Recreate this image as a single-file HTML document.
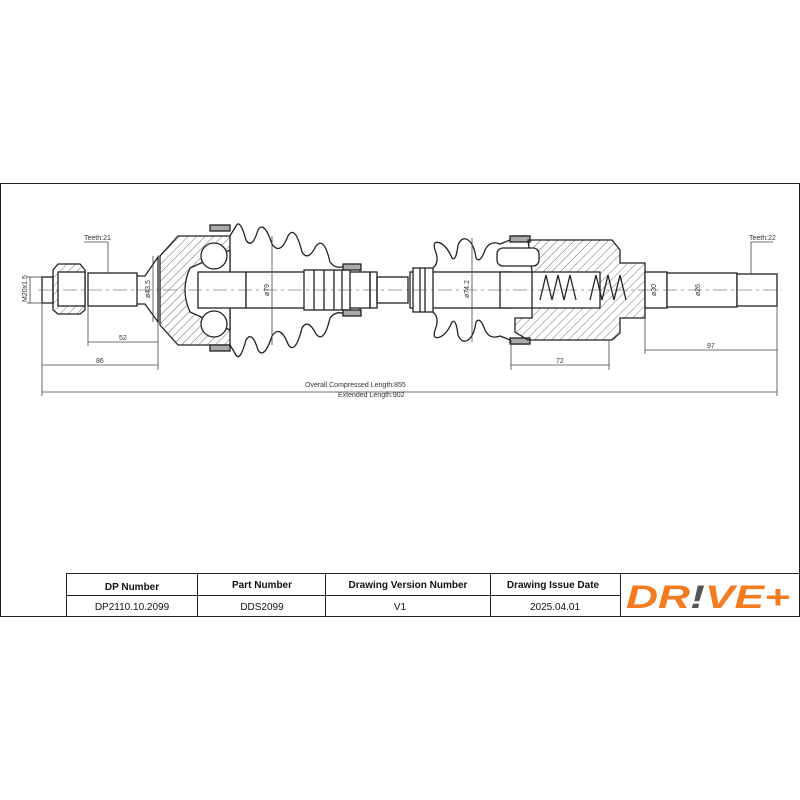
<!DOCTYPE html>
<html><head><style>
body{margin:0;background:#fff;width:800px;height:800px;overflow:hidden;font-family:"Liberation Sans",sans-serif}
svg{position:absolute;left:0;top:0}
</style></head><body>
<svg width="800" height="800" viewBox="0 0 800 800">
<defs>
<pattern id="h" width="6" height="6" patternUnits="userSpaceOnUse" patternTransform="rotate(45)">
<line x1="0" y1="0" x2="0" y2="6" stroke="#333" stroke-width="0.7"/></pattern>
</defs>
<rect x="0.5" y="183.5" width="799" height="433" fill="none" stroke="#222" stroke-width="1"/>
<g fill="none" stroke="#222" stroke-width="1.3">
<rect x="42" y="277" width="11" height="26" fill="#fff"/>
<path d="M53 270 L58 264 L80 264 L85 270 L85 310 L80 314 L58 314 L53 310 Z" fill="url(#h)"/>
<rect x="58" y="272" width="27" height="34" fill="#fff"/>
<rect x="88" y="273" width="49" height="33" fill="#fff"/>
<path d="M137 276 L145 276 L158 257 L158 322 L145 304 L137 304"/>
<path d="M160 256 L178 236 L230 236 L230 345 L178 345 L160 325 Z" fill="url(#h)"/>
<path d="M190 268 Q180 290 190 312 L230 330 L230 250 Z" fill="#fff"/>
<circle cx="214" cy="256" r="13" fill="#fff"/>
<circle cx="214" cy="324" r="13" fill="#fff"/>
<rect x="198" y="272" width="48" height="36" fill="#fff"/>
<rect x="246" y="272" width="124" height="36" fill="#fff"/>
<rect x="304" y="270" width="46" height="40" fill="#fff"/>
<line x1="314" y1="270" x2="314" y2="310"/><line x1="324" y1="270" x2="324" y2="310"/><line x1="334" y1="270" x2="334" y2="310"/><line x1="342" y1="270" x2="342" y2="310"/>
<rect x="370" y="272" width="7" height="36"/>
<rect x="377" y="277" width="31" height="26"/>
<path d="M230 236 L236 226 Q240 218 246 240 Q252 250 258 230 Q264 220 272 244 Q280 256 288 236 Q295 224 302 252 Q308 262 316 246 Q324 236 330 262 Q336 270 345 266 L360 266 L360 272"/>
<path d="M230 345 L236 355 Q240 362 246 340 Q252 330 258 350 Q264 360 272 336 Q280 324 288 344 Q295 356 302 328 Q308 318 316 334 Q324 344 330 318 Q336 310 345 314 L360 314 L360 308"/>
<rect x="210" y="225" width="20" height="6" fill="#aaa"/><rect x="210" y="345" width="20" height="6" fill="#aaa"/>
<rect x="343" y="264" width="18" height="6" fill="#aaa"/><rect x="343" y="310" width="18" height="6" fill="#aaa"/>
<rect x="410" y="272" width="100" height="36" fill="#fff"/>
<rect x="413" y="268" width="20" height="44" fill="#fff"/>
<line x1="420" y1="268" x2="420" y2="312"/><line x1="425" y1="268" x2="425" y2="312"/>
<path d="M433 268 Q440 262 435 250 Q432 240 440 243 Q447 246 452 258 Q456 262 458 245 Q462 236 468 240 Q474 244 476 258 Q480 264 485 250 Q490 240 500 244 L510 240 L512 236 L530 236"/>
<path d="M433 312 Q440 318 435 330 Q432 340 440 337 Q447 334 452 322 Q456 318 458 335 Q462 344 468 340 Q474 336 476 322 Q480 316 485 330 Q490 340 500 336 L510 340 L512 344 L530 344"/>
<rect x="510" y="236" width="20" height="6" fill="#aaa"/><rect x="510" y="338" width="20" height="6" fill="#aaa"/>
<path d="M528 240 L612 240 L620 250 L620 263 L645 263 L645 318 L620 318 L620 333 L612 340 L528 340 L515 332 L515 318 L532 318 L532 308 L600 308 L600 272 L532 272 Z" fill="url(#h)"/>
<rect x="497" y="248" width="42" height="18" rx="6" fill="#fff"/>
<rect x="500" y="272" width="32" height="36" fill="#fff"/>
<path d="M540 300 L546 275 L552 300 L558 275 L564 300 L570 275 L576 300"/>
<path d="M590 300 L596 275 L602 300 L608 275 L614 300 L620 275 L626 300"/>
<rect x="645" y="272" width="22" height="36" fill="#fff"/>
<rect x="667" y="273" width="70" height="34" fill="#fff"/>
<rect x="737" y="274" width="40" height="32" fill="#fff"/>
</g>
<line x1="38" y1="290" x2="782" y2="290" stroke="#444" stroke-width="0.6" stroke-dasharray="14,4,3,4"/>
<g stroke="#444" stroke-width="0.8" fill="none">
<line x1="42" y1="303" x2="42" y2="396"/><line x1="158" y1="322" x2="158" y2="370"/>
<line x1="88" y1="306" x2="88" y2="346"/>
<line x1="88" y1="342" x2="158" y2="342"/>
<line x1="42" y1="365" x2="158" y2="365"/>
<line x1="42" y1="392" x2="777" y2="392"/>
<line x1="777" y1="306" x2="777" y2="396"/>
<line x1="645" y1="318" x2="645" y2="354"/>
<line x1="645" y1="350" x2="777" y2="350"/>
<line x1="511" y1="340" x2="511" y2="370"/><line x1="609" y1="340" x2="609" y2="370"/>
<line x1="511" y1="365" x2="609" y2="365"/>
<line x1="108" y1="242" x2="108" y2="273"/><line x1="84" y1="242" x2="108" y2="242"/>
<line x1="751" y1="242" x2="751" y2="274"/><line x1="751" y1="242" x2="773" y2="242"/>
<line x1="27" y1="277" x2="42" y2="277"/><line x1="27" y1="303" x2="42" y2="303"/><line x1="30" y1="277" x2="30" y2="303"/>
<line x1="153" y1="256" x2="153" y2="322"/>
<line x1="272" y1="236" x2="272" y2="345"/>
<line x1="472" y1="238" x2="472" y2="342"/>
</g>
<g font-size="7" fill="#333" font-family="Liberation Sans,sans-serif">
<text x="84" y="240">Teeth:21</text>
<text x="749" y="240">Teeth:22</text>
<text x="119" y="340">52</text>
<text x="96" y="363">86</text>
<text x="556" y="363">72</text>
<text x="707" y="348">97</text>
<text x="305" y="387">Overall  Compressed  Length:855</text>
<text x="338" y="397">Extended  Length:902</text>
<text transform="translate(27,302) rotate(-90)">M20x1.5</text>
<text transform="translate(150,298) rotate(-90)">ø43.5</text>
<text transform="translate(269,296) rotate(-90)">ø79</text>
<text transform="translate(469,298) rotate(-90)">ø74.2</text>
<text transform="translate(656,296) rotate(-90)">ø30</text>
<text transform="translate(700,296) rotate(-90)">ø26</text>
</g>
<g stroke="#222" stroke-width="1" fill="none">
<rect x="66.5" y="573.5" width="733" height="43"/>
<line x1="66" y1="595.5" x2="620" y2="595.5"/>
<line x1="197.5" y1="573" x2="197.5" y2="617"/>
<line x1="325.5" y1="573" x2="325.5" y2="617"/>
<line x1="490.5" y1="573" x2="490.5" y2="617"/>
<line x1="620.5" y1="573" x2="620.5" y2="617"/>
</g>
<g font-size="10" fill="#111" text-anchor="middle" font-family="Liberation Sans,sans-serif">
<text x="132" y="590" font-weight="bold">DP Number</text>
<text x="262" y="588" font-weight="bold">Part Number</text>
<text x="408" y="588" font-weight="bold">Drawing Version Number</text>
<text x="553" y="588" font-weight="bold">Drawing Issue Date</text>
<text x="132" y="610">DP2110.10.2099</text>
<text x="262" y="610">DDS2099</text>
<text x="400" y="610">V1</text>
<text x="555" y="610">2025.04.01</text>
</g>
<text x="626" y="608" font-size="32" font-weight="bold" font-style="italic" fill="#f47c20" font-family="Liberation Sans,sans-serif" textLength="164" lengthAdjust="spacingAndGlyphs">DR<tspan fill="#555">!</tspan>VE+</text>
</svg>
</body></html>
